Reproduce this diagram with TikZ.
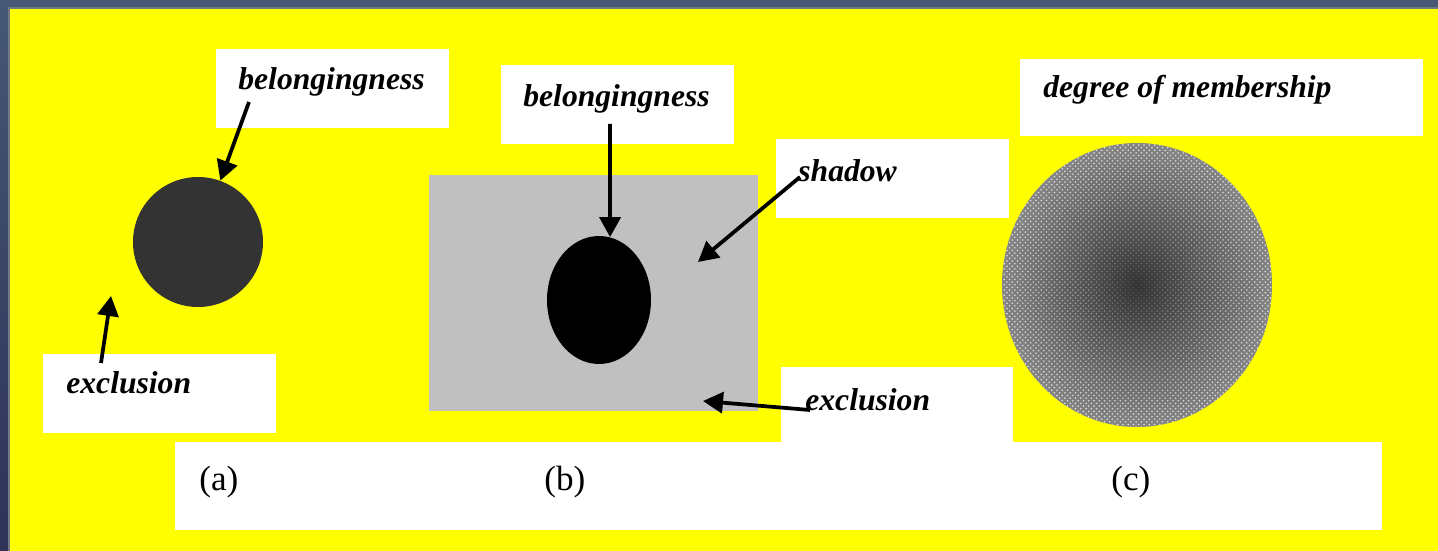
\documentclass[tikz,border=0pt]{standalone}
\usepackage{fontspec}
\setmainfont{Liberation Serif}
\usetikzlibrary{arrows.meta,shapes.geometric,patterns,fadings}

\definecolor{slatetop}{RGB}{70,88,116}
\definecolor{slatebottom}{RGB}{46,50,88}
\definecolor{framegray}{RGB}{112,120,134}
\definecolor{shadowgray}{RGB}{192,192,192}
\definecolor{setgray}{RGB}{51,51,51}
\definecolor{paneyellow}{RGB}{255,255,0}

\tikzfading[name=dotfade, inner color=transparent!90, outer color=transparent!0]

\begin{document}
\begin{tikzpicture}[
  x=0.2mm, y=-0.2mm,
  whitebox/.style={fill=white},
  tag/.style={font=\fontsize{18}{20}\selectfont\bfseries\itshape, anchor=base west, inner sep=0pt},
  caption/.style={font=\fontsize{20}{22}\selectfont, anchor=base west, inner sep=0pt},
  pointer/.style={-{Triangle[length=4mm, width=4.2mm]}, line width=0.75mm, draw=black}
]
  \useasboundingbox (0,0) rectangle (1438,551);
  \shade[top color=slatetop, bottom color=slatebottom] (0,0) rectangle (1438,551);
  \fill[framegray] (8,7) rectangle (1438,551);
  \fill[paneyellow] (10,9) rectangle (1438,551);

  \fill[whitebox] (216,49) rectangle (449,128);
  \fill[whitebox] (43,354) rectangle (276,433);
  \fill[whitebox] (501,65) rectangle (734,144);
  \fill[whitebox] (776,139) rectangle (1009,218);
  \fill[whitebox] (781,367) rectangle (1013,442);
  \fill[whitebox] (1020,59) rectangle (1423,136);
  \fill[whitebox] (175,442) rectangle (1382,530);

  \node[circle, fill=setgray, minimum size=26mm, inner sep=0pt] (setA) at (198,242) {};
  \node[rectangle, fill=shadowgray, minimum width=65.8mm, minimum height=47.2mm, inner sep=0pt] (shadowRect) at (593.5,293) {};
  \node[ellipse, fill=black, minimum width=20.8mm, minimum height=25.6mm, inner sep=0pt] (coreB) at (599,300) {};
  \node[ellipse, minimum width=54mm, minimum height=56.8mm, inner sep=0pt,
        shading=radial, inner color=black!80, outer color=black!48] (fuzzyC) at (1137,285) {};
  \fill[pattern=crosshatch dots, pattern color=white!90!black, path fading=dotfade]
    (1137,285) ellipse [x radius=135, y radius=142];

  \node[tag] (belongA) at (238,90) {belongingness};
  \node[tag] (exclusionA) at (66,394) {exclusion};
  \node[tag] (belongB) at (523,107) {belongingness};
  \node[tag] (shadowB) at (798,182) {shadow};
  \node[tag] (exclusionB) at (805,410) {exclusion};
  \node[tag] (degreeC) at (1043,98) {degree of membership};

  \node[caption] (capA) at (199,490) {(a)};
  \node[caption] (capB) at (544,490) {(b)};
  \node[caption] (capC) at (1111,490) {(c)};

  \coordinate (belongAtail) at (249,102);
  \coordinate (exclusionAtail) at (101,363);
  \coordinate (exclusionAtip) at (111,296);
  \coordinate (belongBtail) at (610,124);
  \coordinate (shadowBtail) at (800,177);
  \coordinate (shadowBtip) at (698,262);
  \coordinate (exclusionBtail) at (810,410);
  \coordinate (exclusionBtip) at (703,401);

  \draw[pointer] (belongAtail) -- (setA.70);
  \draw[pointer] (exclusionAtail) -- (exclusionAtip);
  \draw[pointer] (belongBtail) -- (coreB.80);
  \draw[pointer] (shadowBtail) -- (shadowBtip);
  \draw[pointer] (exclusionBtail) -- (exclusionBtip);
\end{tikzpicture}
\end{document}
